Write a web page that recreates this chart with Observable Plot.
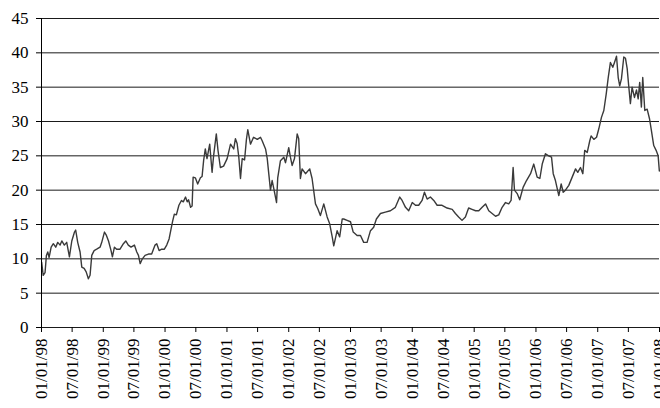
<!DOCTYPE html>
<html>
<head>
<meta charset="utf-8">
<script src="https://cdn.jsdelivr.net/npm/d3@7"></script>
<script src="https://cdn.jsdelivr.net/npm/@observablehq/plot@0.6"></script>
<style>
  html, body { margin: 0; padding: 0; background: #fff; }
  #chart svg { display: block; }
  #chart svg text { font-family: "Liberation Serif", "Times New Roman", Times, serif !important; }
</style>
</head>
<body>
<div id="chart"></div>
<script>
const dates = [
  "1998-01-02","1998-01-11","1998-01-22","1998-01-30","1998-02-07","1998-02-15","1998-02-27","1998-03-12","1998-03-26","1998-04-07",
  "1998-04-21","1998-05-01","1998-05-16","1998-05-30","1998-06-15","1998-06-29","1998-07-15","1998-07-22","1998-08-03","1998-08-17",
  "1998-08-27","1998-09-10","1998-09-22","1998-10-05","1998-10-15","1998-10-25","1998-11-08","1998-11-23","1998-12-13","1998-12-23",
  "1999-01-08","1999-01-18","1999-02-01","1999-02-16","1999-02-24","1999-03-08","1999-03-21","1999-04-10","1999-04-30","1999-05-14",
  "1999-05-29","1999-06-14","1999-07-04","1999-07-18","1999-07-28","1999-08-07","1999-08-20","1999-09-05","1999-09-25","1999-10-14",
  "1999-11-03","1999-11-13","1999-11-27","1999-12-12","1999-12-28",
  "2000-01-11","2000-01-25","2000-02-06","2000-02-15","2000-02-25","2000-03-08","2000-03-23","2000-04-07","2000-04-18","2000-05-01",
  "2000-05-11","2000-05-19","2000-05-31","2000-06-09","2000-06-15","2000-06-28","2000-07-12","2000-07-28","2000-08-07","2000-08-16",
  "2000-08-26","2000-09-05","2000-09-21","2000-10-05","2000-10-14","2000-10-30","2000-11-09","2000-11-23","2000-12-12",
  "2001-01-02","2001-01-22","2001-02-10","2001-02-20","2001-03-02","2001-03-12","2001-03-22","2001-04-01","2001-04-15","2001-04-26",
  "2001-05-04","2001-05-20","2001-06-07","2001-06-29","2001-07-18","2001-07-28","2001-08-17","2001-08-27","2001-09-05","2001-09-15",
  "2001-09-25","2001-10-05","2001-10-21","2001-10-28","2001-11-13","2001-12-03","2001-12-13",
  "2002-01-01","2002-01-11","2002-01-21","2002-02-04","2002-02-20","2002-03-01","2002-03-11","2002-03-21","2002-04-10","2002-05-05",
  "2002-05-19","2002-06-08","2002-06-22","2002-07-07","2002-07-27","2002-08-16","2002-08-31","2002-09-15","2002-09-24","2002-10-14",
  "2002-10-29","2002-11-13","2002-11-22","2002-12-12",
  "2003-01-01","2003-01-17","2003-02-09","2003-03-01","2003-03-20","2003-04-09","2003-04-29","2003-05-18","2003-06-03","2003-06-27",
  "2003-07-26","2003-08-25","2003-09-23","2003-10-19","2003-11-02","2003-11-22","2003-12-11",
  "2004-01-01","2004-01-20","2004-02-08","2004-02-28","2004-03-13","2004-03-29","2004-04-17","2004-05-07","2004-05-27","2004-06-25",
  "2004-07-25","2004-08-24","2004-09-12","2004-10-01","2004-10-21","2004-11-10","2004-11-29","2004-12-19",
  "2005-01-09","2005-01-28","2005-02-17","2005-03-09","2005-03-28","2005-04-17","2005-05-07","2005-05-26","2005-06-15","2005-07-05",
  "2005-07-24","2005-08-07","2005-08-19","2005-08-27","2005-09-12","2005-09-27","2005-10-17","2005-11-06","2005-11-30","2005-12-19",
  "2006-01-08","2006-01-24","2006-02-07","2006-02-26","2006-03-17","2006-04-03","2006-04-13","2006-04-26","2006-05-16","2006-05-30",
  "2006-06-11","2006-06-24","2006-07-14","2006-08-03","2006-08-23","2006-09-05","2006-09-21","2006-10-05","2006-10-16","2006-10-31",
  "2006-11-15","2006-11-23","2006-12-09","2006-12-25",
  "2007-01-07","2007-01-23","2007-02-06","2007-02-20","2007-03-04","2007-03-17","2007-03-31","2007-04-10","2007-04-22","2007-05-02",
  "2007-05-11","2007-05-21","2007-06-04","2007-06-14","2007-06-24","2007-07-03","2007-07-13","2007-07-23","2007-08-06","2007-08-18",
  "2007-08-28","2007-09-06","2007-09-16","2007-09-24","2007-10-06","2007-10-20","2007-11-03","2007-11-14","2007-11-28","2007-12-12",
  "2007-12-24","2007-12-31"
];
const values = [
  9.5,7.6,8.0,10.5,11.0,10.2,11.7,12.2,11.7,12.4,
  12.0,12.6,12.0,12.4,10.3,12.6,13.9,14.2,12.4,11.0,
  8.8,8.6,8.1,7.1,7.6,10.5,11.2,11.4,11.7,12.4,
  13.9,13.5,12.6,11.2,10.3,11.7,11.4,11.4,12.2,12.6,
  12.0,11.7,12.0,11.0,10.5,9.3,10.0,10.5,10.7,10.7,
  12.0,12.2,11.2,11.4,11.4,
  12.0,12.9,14.4,15.5,16.5,16.4,17.8,18.5,18.3,19.0,
  18.3,18.6,17.5,17.7,21.9,21.8,20.9,21.8,22.0,24.3,
  26.0,24.6,26.7,22.6,25.0,28.2,25.8,23.3,23.5,
  24.6,26.7,26.0,27.5,26.8,24.8,21.7,24.6,24.4,27.4,
  28.8,26.7,27.7,27.4,27.7,27.2,26.0,24.6,22.4,20.0,
  21.4,20.2,18.2,21.8,24.3,24.8,24.0,
  26.2,24.8,23.6,24.6,28.2,27.5,21.7,23.1,22.4,23.1,
  21.7,18.0,17.3,16.3,18.0,16.1,15.1,13.2,11.9,14.1,
  13.2,15.8,15.8,15.6,
  15.4,13.9,13.4,13.4,12.4,12.4,14.1,14.6,15.8,16.6,
  16.8,17.0,17.5,19.0,18.5,17.5,17.0,
  18.2,17.8,17.8,18.5,19.7,18.7,19.0,18.5,17.8,17.8,
  17.4,17.2,16.6,16.1,15.6,16.1,17.4,17.2,
  17.0,17.0,17.5,18.0,17.0,16.6,16.2,16.4,17.5,18.2,
  18.0,18.5,23.3,20.0,19.5,18.6,20.4,21.4,22.4,23.8,
  21.9,21.7,23.8,25.3,25.0,24.8,22.4,21.4,19.2,20.9,
  19.7,20.0,20.7,21.9,23.1,22.6,23.3,22.4,25.8,25.5,
  27.2,27.9,27.4,27.7,
  28.9,30.6,31.6,34.0,36.4,38.6,37.9,38.6,39.5,36.4,
  35.2,36.2,39.4,39.2,37.7,35.2,32.6,35.0,33.5,34.6,
  33.3,35.7,32.1,36.4,31.6,31.8,30.4,28.7,26.5,25.8,
  25.0,22.8
];
const yTicks = [0, 5, 10, 15, 20, 25, 30, 35, 40, 45];
const xTickLabels = [
  "1998-01-01","1998-07-01","1999-01-01","1999-07-01","2000-01-01","2000-07-01","2001-01-01","2001-07-01",
  "2002-01-01","2002-07-01","2003-01-01","2003-07-01","2004-01-01","2004-07-01","2005-01-01","2005-07-01",
  "2006-01-01","2006-07-01","2007-01-01","2007-07-01","2008-01-01"
];

const parse = d3.utcParse("%Y-%m-%d");
const data = dates.map((d, i) => ({date: parse(d), value: values[i]}));
const xTicks = xTickLabels.map(parse);
const font = "Liberation Serif";

const chart = Plot.plot({
  width: 660,
  height: 408,
  marginTop: 18,
  marginBottom: 81,
  marginLeft: 41,
  marginRight: 1,
  style: {fontFamily: font, background: "#fff", color: "#000"},
  x: {type: "utc", domain: [xTicks[0], xTicks[xTicks.length - 1]]},
  y: {domain: [0, 45]},
  marks: [
    Plot.ruleY(yTicks, {stroke: "#1a1a1a", strokeWidth: 1}),
    Plot.line(data, {x: "date", y: "value", stroke: "#3a3a3a", strokeWidth: 1.4}),
    Plot.ruleX([xTicks[0]], {stroke: "#000", strokeWidth: 1}),
    Plot.axisY({ticks: yTicks, tickSize: 5, tickPadding: 8, fontSize: 17, fontFamily: font, stroke: "#000", label: null}),
    Plot.axisX({ticks: xTicks, tickFormat: d3.utcFormat("%m/%d/%y"), tickRotate: -90, tickSize: 5, tickPadding: 6,
                fontSize: 17, fontFamily: font, stroke: "#000", label: null})
  ]
});
document.getElementById("chart").appendChild(chart);
</script>
</body>
</html>
